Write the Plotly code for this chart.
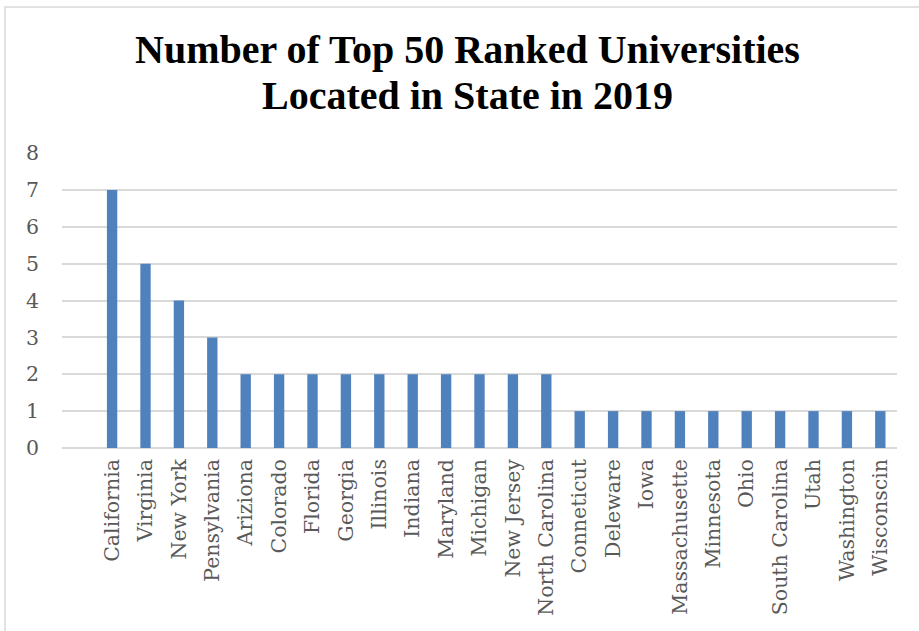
import plotly.graph_objects as go

states = [
    "California", "Virginia", "New York", "Pensylvania", "Ariziona", "Colorado",
    "Florida", "Georgia", "Illinois", "Indiana", "Maryland", "Michigan",
    "New Jersey", "North Carolina", "Conneticut", "Deleware", "Iowa",
    "Massachusette", "Minnesota", "Ohio", "South Carolina", "Utah",
    "Washington", "Wisconscin",
]
counts = [7, 5, 4, 3, 2, 2, 2, 2, 2, 2, 2, 2, 2, 2, 1, 1, 1, 1, 1, 1, 1, 1, 1, 1]
y_ticks = [0, 1, 2, 3, 4, 5, 6, 7, 8]
title_lines = ["Number of Top 50 Ranked Universities", "Located in State in 2019"]

W, H = 919, 631
L, R, T, B = 62, 22, 153, 183
plot_w = W - L - R
plot_h = H - T - B


def px_x(x):
    return (x - L) / plot_w


def px_y(y):
    return (H - B - y) / plot_h


fig = go.Figure(
    go.Bar(
        x=states,
        y=counts,
        marker=dict(color="#4F81BD", line=dict(width=0)),
        width=0.31,
    )
)

# light frame around the whole chart
fig.add_shape(
    type="rect", xref="paper", yref="paper",
    x0=px_x(5), x1=px_x(930), y0=px_y(7), y1=px_y(650),
    line=dict(color="#D9D9D9", width=1.5), fillcolor="rgba(0,0,0,0)", layer="below",
)

# two-line bold title
for line, ymid in zip(title_lines, [50, 96]):
    fig.add_annotation(
        text=line, xref="paper", yref="paper",
        x=px_x(467), y=px_y(ymid), xanchor="center", yanchor="middle",
        showarrow=False,
        font=dict(family="Liberation Serif", size=40, color="black", weight="bold"),
    )

tick_font = dict(family="DejaVu Serif", size=20.5, color="#595959")

fig.update_layout(
    width=W, height=H,
    margin=dict(l=L, r=R, t=T, b=B),
    paper_bgcolor="white", plot_bgcolor="white",
    showlegend=False,
    xaxis=dict(
        type="category",
        range=[-1.5, len(states) - 0.5],
        tickangle=-90,
        tickfont=tick_font,
        showgrid=False, showline=False, ticks="",
        ticklabelstandoff=6,
    ),
    yaxis=dict(
        range=[0, 8],
        tickvals=y_ticks,
        tickfont=tick_font,
        gridcolor="#D9D9D9", gridwidth=1.5,
        zeroline=True, zerolinecolor="#D9D9D9", zerolinewidth=1.5,
        showline=False, ticks="",
        ticklabelstandoff=22,
    ),
)

fig.write_html("out.html")
